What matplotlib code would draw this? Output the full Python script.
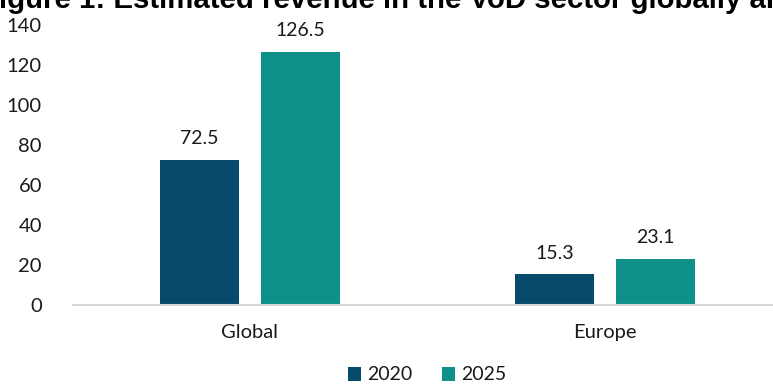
import matplotlib
matplotlib.use("Agg")
import matplotlib.pyplot as plt
import numpy as np

categories = ["Global", "Europe"]
years = ["2020", "2025"]
values_2020 = [72.5, 15.3]
values_2025 = [126.5, 23.1]
yticks = [0, 20, 40, 60, 80, 100, 120, 140]
title = "Figure 1: Estimated revenue in the VoD sector globally and in Europe (USD billion)"

colors = ["#064a6c", "#0e918a"]
text_color = "#1a1a1a"
plt.rcParams["font.family"] = ["Lato", "DejaVu Sans"]

W, H = 773, 385
fig = plt.figure(figsize=(W / 100, H / 100), dpi=100)
ax = fig.add_axes([72.5 / W, 80 / H, 710 / W, 280 / H])

x = np.arange(len(categories))
bw = 0.223
off = 0.142
for vals, o, c, lab in [(values_2020, -off, colors[0], years[0]),
                        (values_2025, off, colors[1], years[1])]:
    bars = ax.bar(x + o, vals, bw, color=c, label=lab)
    for b, v in zip(bars, vals):
        ax.annotate(f"{v}", (b.get_x() + b.get_width() / 2, v),
                    xytext=(0, 9), textcoords="offset points",
                    ha="center", va="bottom", fontsize=14, color=text_color)

ax.set_xlim(-0.5, 1.5)
ax.set_ylim(0, 140)
ax.set_yticks(yticks)
ax.set_xticks(x)
ax.set_xticklabels(categories)
ax.tick_params(axis="both", length=0, labelsize=14.5, colors=text_color)
ax.tick_params(axis="y", pad=22)
ax.tick_params(axis="x", pad=14)
for s in ["top", "right", "left"]:
    ax.spines[s].set_visible(False)
ax.spines["bottom"].set_color("#d9d9d9")
ax.spines["bottom"].set_linewidth(1.5)

leg = fig.legend(loc="center", bbox_to_anchor=(427 / W, 1 - 375 / H), ncol=2,
                 frameon=False, handlelength=0.7, handleheight=0.7,
                 handletextpad=0.3, columnspacing=1.5, prop={"size": 14})
for t in leg.get_texts():
    t.set_color(text_color)

# Title runs past the right edge; size it so "Estimated ... globally" spans 113..742 px
renderer = fig.canvas.get_renderer()
title_family = ["Liberation Sans", "DejaVu Sans"]


def text_width(s, size):
    t = fig.text(0, 0, s, fontsize=size, fontweight="bold", family=title_family)
    w = t.get_window_extent(renderer).width
    t.remove()
    return w


span = "Estimated revenue in the VoD sector globally"
size = 18 * 629 / text_width(span, 18)
prefix_w = text_width("Figure 1: ", size)
fig.text((113 - prefix_w) / W, 1 - 7.5 / H, title, fontsize=size, fontweight="bold",
         family=title_family, va="baseline", ha="left")

fig.savefig("out.png", dpi=100)
